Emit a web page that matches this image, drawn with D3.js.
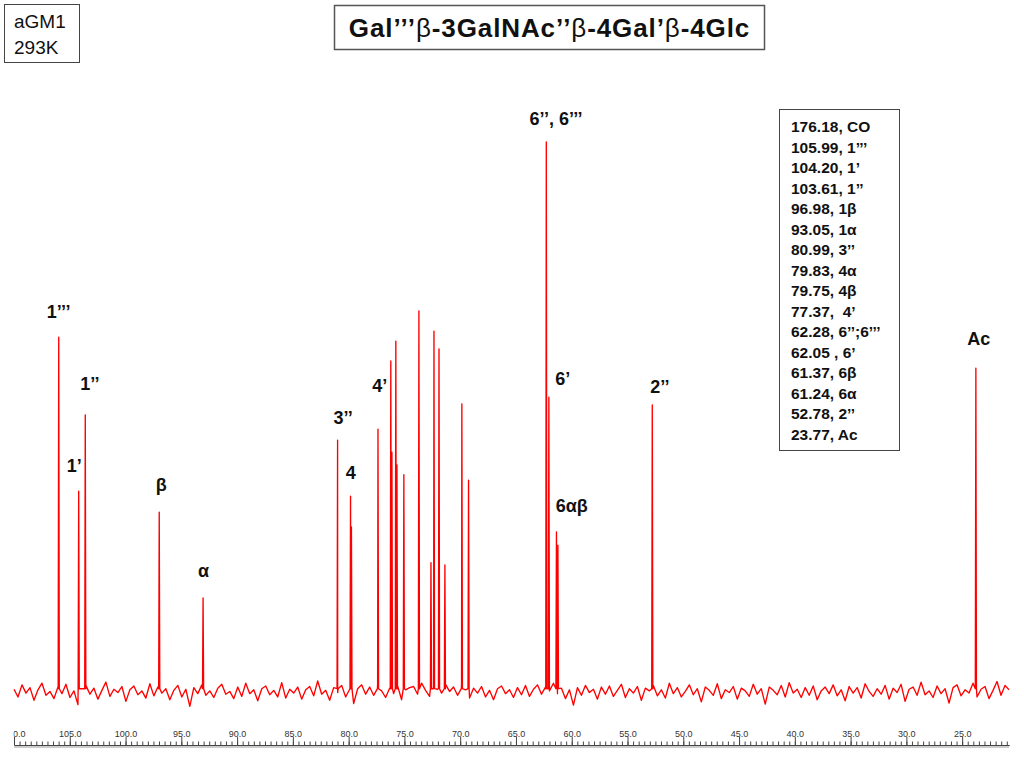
<!DOCTYPE html>
<html>
<head>
<meta charset="utf-8">
<script src="https://cdn.jsdelivr.net/npm/d3@7"></script>
<style>
body{margin:0;background:#fff;}
svg{display:block;font-family:"Liberation Sans",Arial,sans-serif;}
</style>
</head>
<body>
<svg id="chart" width="1024" height="768"></svg>
<script>
// 13C spectrum of aGM1, ppm axis runs right to left
const peakPpm    = [105.99, 104.20, 103.61, 96.98, 93.05, 80.99, 79.83, 79.75, 77.37, 76.22, 76.12,
                    75.77, 75.67, 75.05, 73.70, 72.62, 72.35, 71.90, 71.37, 69.85, 69.25,
                    62.28, 62.05, 61.37, 61.24, 52.78, 23.77];
const peakHeight = [64.5, 36.5, 50.4, 32.7, 17.1, 45.8, 35.6, 30.0, 47.8, 60.2, 43.6,
                    63.8, 41.3, 39.5, 69.3, 23.5, 65.6, 62.4, 23.1, 52.4, 38.5,
                    100, 53.6, 29.1, 26.7, 52.2, 58.9];

const labelText  = ['1\u2019\u2019\u2019', '1\u2019\u2019', '1\u2019', '\u03b2', '\u03b1', '3\u2019\u2019', '4', '4\u2019',
                    '6\u2019\u2019, 6\u2019\u2019\u2019', '6\u2019', '6\u03b1\u03b2', '2\u2019\u2019', 'Ac'];
const labelPpm   = [106.0, 103.2, 104.6, 96.8, 93.0, 80.5, 79.8, 77.2, 61.4, 60.8, 60.0, 52.1, 23.5];
const labelLevel = [68.0, 54.9, 40.0, 36.6, 21.0, 48.8, 38.8, 54.6, 103.1, 55.8, 32.7, 54.4, 63.1];

const assignments = ['176.18, CO', '105.99, 1\u2019\u2019\u2019', '104.20, 1\u2019', '103.61, 1\u2019\u2019',
                     '96.98, 1\u03b2', '93.05, 1\u03b1', '80.99, 3\u2019\u2019', '79.83, 4\u03b1', '79.75, 4\u03b2',
                     '77.37,  4\u2019', '62.28, 6\u2019\u2019;6\u2019\u2019\u2019', '62.05 , 6\u2019', '61.37, 6\u03b2',
                     '61.24, 6\u03b1', '52.78, 2\u2019\u2019', '23.77, Ac'];

const majorTicks = [110, 105, 100, 95, 90, 85, 80, 75, 70, 65, 60, 55, 50, 45, 40, 35, 30, 25];

// baseline noise, evenly spaced from 110 to 20.8 ppm
const noise = [
  0.5,-0.9,1.3,-0.2,0.8,-1.5,0.4,1.6,-0.6,0.1,
  -1.2,0.9,-0.3,1.4,-1.0,0.2,-2.3,0.6,1.2,-0.4,
  0.7,-1.3,0.3,1.8,-0.8,0.5,-0.1,1.0,-1.7,0.4,
  1.1,-0.5,0.2,-1.1,1.5,-0.7,0.9,-0.2,0.6,-1.4,
  0.3,1.2,-0.9,0.5,-2.6,0.8,-0.3,1.3,-0.6,0.2,
  -1.0,0.7,1.4,-0.4,0.1,-1.2,0.9,-0.8,1.6,-0.3,
  0.4,-1.6,0.6,1.1,-0.5,0.3,-0.9,1.7,-1.1,0.5,
  -0.2,0.9,-1.3,0.4,1.0,-0.7,2.0,-0.4,0.3,-1.5,
  0.8,-0.1,1.2,-0.9,0.5,-2.1,0.6,1.3,-0.4,0.9,
  -0.6,1.5,0.2,-1.0,0.7,-0.3,1.1,-1.4,0.4,0.8,
  1.0,-0.4,1.6,0.3,-0.8,1.2,0.5,-0.2,1.4,0.1,
  0.9,-0.6,1.3,0.4,-1.1,0.7,-0.2,1.0,-0.9,0.3,
  -1.4,0.6,1.1,-0.3,0.4,-1.0,0.8,-0.5,1.2,-0.8,
  0.5,1.3,-0.4,0.9,0.2,1.6,-0.3,0.7,-1.2,0.4,
  -2.4,0.8,-0.6,1.2,-0.1,0.5,-1.3,0.9,-0.4,1.1,
  -0.8,0.3,1.4,-1.0,0.6,-0.2,1.0,-1.5,0.7,0.2,
  1.2,-0.7,0.4,-1.1,1.6,-0.3,0.8,-0.9,0.1,1.3,
  -0.5,0.6,-1.8,0.9,0.3,-0.6,1.5,-1.2,0.4,-0.1,
  1.0,-1.3,0.7,0.2,-0.8,1.4,-0.4,0.6,-2.2,0.9,
  0.3,-0.5,1.2,-0.9,1.7,-0.2,0.5,-1.0,0.8,-0.6,
  1.1,-1.4,0.2,0.9,-0.3,1.3,-0.7,0.4,-1.6,1.0,
  -0.2,0.8,-1.1,1.5,0.1,-0.8,0.6,-0.4,1.2,-1.3,
  0.7,-0.1,1.4,-1.7,0.5,0.9,-0.6,1.8,-0.5,0.2,
  -1.0,1.1,-0.3,0.6,-2.0,0.8,1.3,-0.7,0.4,-0.2,
  1.6,-0.9,0.5,1.0,-1.2,0.3,1.9,-0.6,1.2,0.4
];

const svg = d3.select('#chart');
svg.append('rect').attr('width', 1024).attr('height', 768).attr('fill', '#fff');

const x = d3.scaleLinear().domain([110, 20.8]).range([14, 1009]);
const y = d3.scaleLinear().domain([0, 100]).range([692, 142]);

svg.append('defs').append('clipPath').attr('id', 'axclip')
    .append('rect').attr('x', 13.5).attr('y', 700).attr('width', 1000).attr('height', 60);

// trace: noise samples plus the narrow peaks, merged in ppm order
let step = (110 - 20.8) / (noise.length - 1);
let pts = noise.map((v, i) => [110 - i * step, v]);
peakPpm.forEach(function(p, i) {
    pts.push([p + 0.05, 0.6]);
    pts.push([p, peakHeight[i]]);
    pts.push([p - 0.05, 0.6]);
});
pts.sort((a, b) => b[0] - a[0]);

svg.append('path')
    .datum(pts)
    .attr('fill', 'none')
    .attr('stroke', '#ff0000')
    .attr('stroke-width', 1.35)
    .attr('stroke-linejoin', 'round')
    .attr('d', d3.line().x(d => x(d[0])).y(d => y(d[1])));

// ppm axis
let minorTicks = d3.range(110, 20.7, -0.5);
let axisG = svg.append('g').attr('clip-path', 'url(#axclip)');
axisG.append('g')
    .attr('transform', 'translate(0,745)')
    .call(d3.axisTop(x).tickValues(minorTicks).tickSize(3.5).tickSizeOuter(0).tickFormat(''));
axisG.append('g')
    .attr('transform', 'translate(0,745)')
    .call(d3.axisTop(x).tickValues(majorTicks).tickSize(8).tickSizeOuter(0).tickPadding(0.5).tickFormat(d3.format('.1f')));
axisG.selectAll('.domain').attr('stroke', '#444');
axisG.selectAll('.tick line').attr('stroke', '#444');
axisG.selectAll('.tick text')
    .attr('font-family', '"Liberation Sans",Arial,sans-serif')
    .attr('font-size', 9)
    .attr('fill', '#333');
svg.append('line')
    .attr('x1', x(110)).attr('x2', x(20.8))
    .attr('y1', 747).attr('y2', 747)
    .attr('stroke', '#999').attr('stroke-width', 1);

// peak labels
svg.append('g').selectAll('text')
    .data(labelText)
    .enter().append('text')
    .attr('x', (d, i) => x(labelPpm[i]))
    .attr('y', (d, i) => y(labelLevel[i]))
    .attr('text-anchor', 'middle')
    .attr('font-size', 18)
    .attr('font-weight', 'bold')
    .attr('fill', '#111')
    .text(d => d);

// sample box
svg.append('rect').attr('x', 4.5).attr('y', 4.5).attr('width', 75).attr('height', 58)
    .attr('fill', 'none').attr('stroke', '#444').attr('stroke-width', 1);
svg.append('text').attr('x', 14).attr('y', 28).attr('font-size', 19).attr('fill', '#111').text('aGM1');
svg.append('text').attr('x', 14).attr('y', 54).attr('font-size', 19).attr('fill', '#111').text('293K');

// title
svg.append('rect').attr('x', 334.5).attr('y', 5.5).attr('width', 430).attr('height', 44)
    .attr('fill', '#fff').attr('stroke', '#555').attr('stroke-width', 1.5);
let title = svg.append('text').attr('x', 549.5).attr('y', 37)
    .attr('text-anchor', 'middle').attr('font-size', 26).attr('font-weight', 'bold')
    .attr('letter-spacing', 0.9).attr('fill', '#111');
[['Gal\u2019\u2019\u2019', 'bold'], ['\u03b2', 'normal'], ['-3GalNAc\u2019\u2019', 'bold'], ['\u03b2', 'normal'],
 ['-4Gal\u2019', 'bold'], ['\u03b2', 'normal'], ['-4Glc', 'bold']].forEach(function(s) {
    title.append('tspan').attr('font-weight', s[1]).text(s[0]);
});

// assignment list
svg.append('rect').attr('x', 779.5).attr('y', 109.5).attr('width', 120).attr('height', 341)
    .attr('fill', '#fff').attr('stroke', '#444').attr('stroke-width', 1);
svg.append('g').selectAll('text')
    .data(assignments)
    .enter().append('text')
    .attr('x', 791)
    .attr('y', (d, i) => 132 + i * 20.5)
    .attr('font-size', 15.5)
    .attr('font-weight', 'bold')
    .attr('fill', '#111')
    .style('white-space', 'pre')
    .text(d => d);
</script>
</body>
</html>
